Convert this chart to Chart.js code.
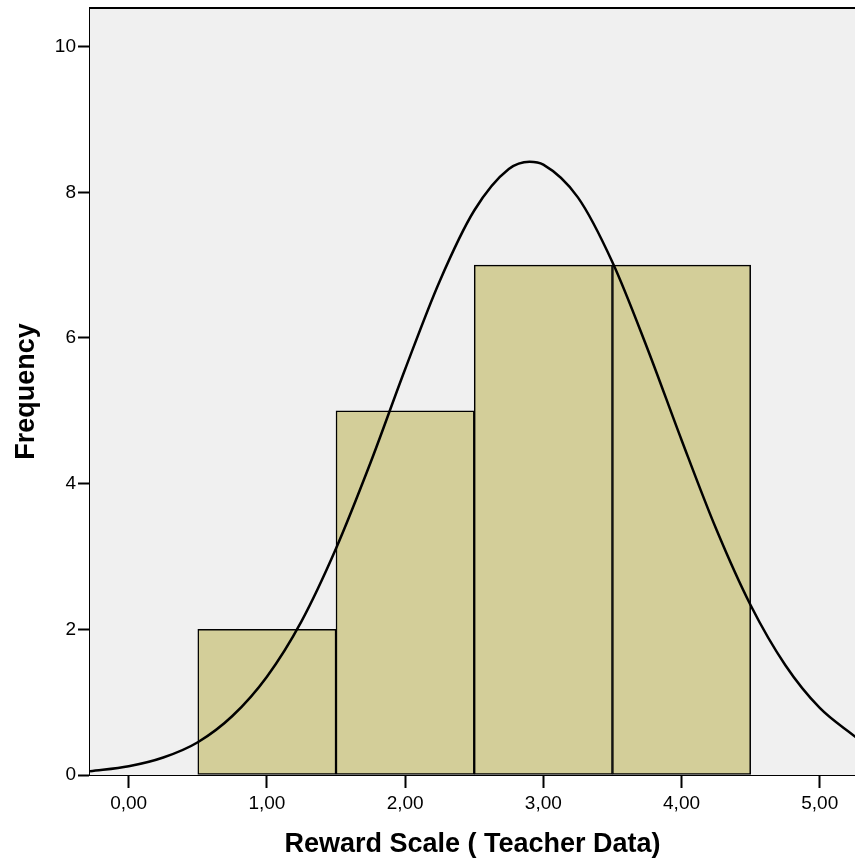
<!DOCTYPE html>
<html>
<head>
<meta charset="utf-8">
<script src="https://cdn.jsdelivr.net/npm/chart.js@4.4.1/dist/chart.umd.min.js"></script>
<style>
  body { margin: 0; background: #ffffff; }
  canvas { display: block; }
</style>
</head>
<body>
<canvas id="hist" width="855" height="868"></canvas>
<script>
// Histogram bins (centre of each bin) and frequencies
var binCenters = [1, 2, 3, 4]
var frequencies = [2, 5, 7, 7]
// Normal curve
var curveX = [-0.28, 0, 0.25, 0.5, 0.75, 1, 1.25, 1.5, 1.75, 2, 2.25, 2.5, 2.75, 2.9, 3, 3.25, 3.5, 3.75, 4, 4.25, 4.5, 4.75, 5, 5.26]
var curveY = [0.05, 0.12, 0.24, 0.45, 0.81, 1.35, 2.11, 3.11, 4.29, 5.57, 6.78, 7.75, 8.32, 8.42, 8.38, 7.93, 7.04, 5.87, 4.6, 3.38, 2.33, 1.51, 0.92, 0.52]
// Axis ticks
var xTicks = [0, 1, 2, 3, 4, 5]
var yTicks = [0, 2, 4, 6, 8, 10]

var xLabel = 'Reward Scale ( Teacher Data)'
var yLabel = 'Frequency'

Chart.defaults.font.family = '"Liberation Sans", Arial, sans-serif'
Chart.defaults.color = '#000000'

// Fundo cinza e borda superior da área do gráfico
var plotFrame = {
    id: 'plotFrame',
    beforeDatasetsDraw(chart) {
        let a = chart.chartArea, ctx = chart.ctx
        ctx.save()
        ctx.fillStyle = '#f0f0f0'
        ctx.fillRect(a.left, a.top, a.right - a.left, a.bottom - a.top)
        ctx.restore()
    },
    afterDraw(chart) {
        let a = chart.ctx, c = chart.chartArea
        a.save()
        a.strokeStyle = '#000000'
        a.lineWidth = 2
        a.beginPath()
        a.moveTo(c.left - 1, c.top)
        a.lineTo(c.right, c.top)
        a.stroke()
        a.restore()
    }
}

var barData = binCenters.map((x, i) => ({ x: x, y: frequencies[i] }))
var curveData = curveX.map((x, i) => ({ x: x, y: curveY[i] }))

new Chart(document.getElementById('hist').getContext('2d'), {
    type: 'bar',
    data: {
        datasets: [{
            type: 'line',
            data: curveData,
            borderColor: '#000000',
            borderWidth: 2.5,
            pointRadius: 0,
            cubicInterpolationMode: 'monotone',
            fill: false,
            order: 1
        }, {
            data: barData,
            backgroundColor: '#d3ce99',
            borderColor: '#000000',
            borderWidth: 1.5,
            borderSkipped: false,
            barPercentage: 1,
            categoryPercentage: 1,
            order: 2
        }]
    },
    options: {
        responsive: false,
        animation: false,
        layout: { padding: { top: 8, right: 0, left: 0, bottom: 0 } },
        plugins: {
            legend: { display: false },
            tooltip: { enabled: false }
        },
        scales: {
            x: {
                type: 'linear',
                offset: false,
                min: -0.28,
                max: 5.255,
                afterFit: s => { s.height = 93; s.paddingLeft = 0; s.paddingRight = 0 },
                afterBuildTicks: s => { s.ticks = xTicks.map(v => ({ value: v })) },
                ticks: {
                    font: { size: 19 },
                    padding: 4,
                    maxRotation: 0,
                    callback: v => v.toFixed(2).replace('.', ',')
                },
                grid: {
                    offset: false,
                    drawOnChartArea: false,
                    tickLength: 13,
                    tickWidth: 2,
                    color: '#000000'
                },
                border: { color: '#000000', width: 2 },
                title: {
                    display: true,
                    text: xLabel,
                    font: { size: 27, weight: 'bold' },
                    padding: { bottom: 7, top: 0 }
                }
            },
            y: {
                min: 0,
                max: 10.53,
                afterFit: s => { s.width = 90; s.paddingTop = 0; s.paddingBottom = 0 },
                afterBuildTicks: s => { s.ticks = yTicks.map(v => ({ value: v })) },
                ticks: {
                    font: { size: 19 },
                    padding: 2
                },
                grid: {
                    drawOnChartArea: false,
                    tickLength: 12,
                    tickWidth: 2,
                    color: '#000000'
                },
                border: { color: '#000000', width: 2 },
                title: {
                    display: true,
                    text: yLabel,
                    font: { size: 27, weight: 'bold' },
                    padding: { top: 10, bottom: 0 }
                }
            }
        }
    },
    plugins: [plotFrame]
});
</script>
</body>
</html>
